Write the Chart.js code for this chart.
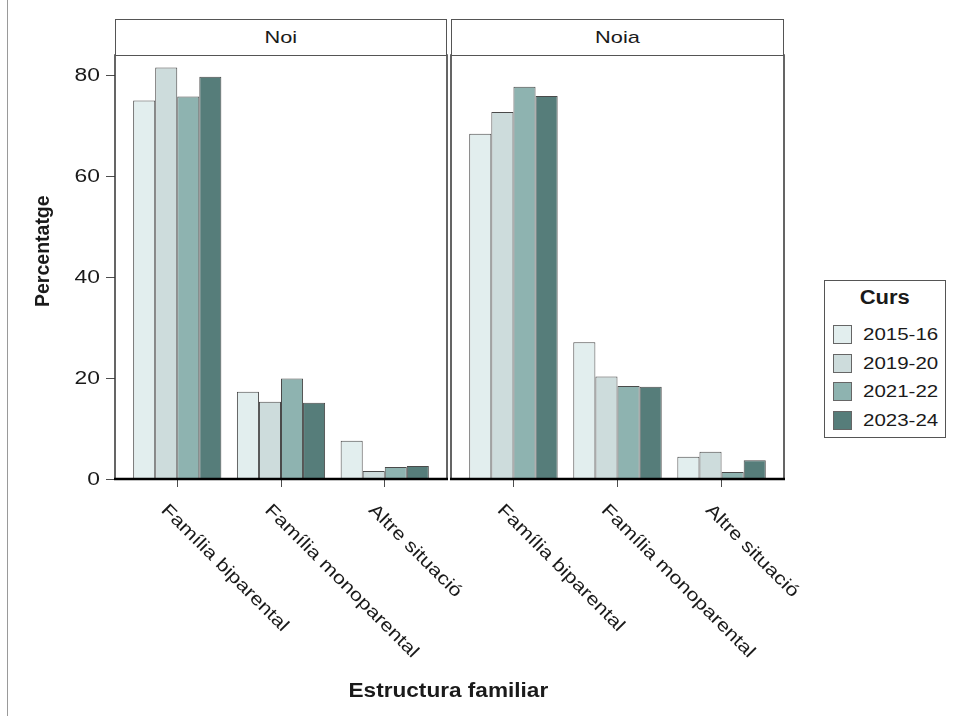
<!DOCTYPE html>
<html>
<head>
<meta charset="utf-8">
<script src="https://cdn.jsdelivr.net/npm/chart.js@4.4.1/dist/chart.umd.min.js"></script>
<style>
  body { margin: 0; background: #fff; }
  #page { position: relative; width: 954px; height: 718px; overflow: hidden;
          font-family: "Liberation Sans", Arial, sans-serif; color: #1a1a1a; }
  .abs { position: absolute; }
  .strip { box-sizing: border-box; border: 1px solid #555; background: #fff;
           display: flex; align-items: center; justify-content: center; font-size: 17px; }
  .strip span, .wide { display: inline-block; transform: scaleX(1.28); white-space: nowrap; }
  .legend-row { position: absolute; left: 8px; width: 110px; height: 19px; font-size: 16px; white-space: nowrap; }
  .legend-row i { position: absolute; left: 0; top: 0; width: 17px; height: 17px; border: 1px solid #666; }
  .legend-row span { position: absolute; left: 30px; top: 0; line-height: 19px; transform-origin: left center; }
</style>
</head>
<body>
<div id="page">
  <div class="abs" style="left:7px;top:0;width:1px;height:716px;background:#9a9a9a"></div>

  <div class="abs" style="left:0;top:43px;width:480px;height:660px"><canvas id="noi"></canvas></div>
  <div class="abs" style="left:449px;top:43px;width:505px;height:660px"><canvas id="noia"></canvas></div>

  <div class="abs strip" style="left:115px;top:19px;width:332px;height:37px"><span>Noi</span></div>
  <div class="abs strip" style="left:451px;top:19px;width:333px;height:37px"><span>Noia</span></div>

  <div class="abs" style="left:-8px;top:246px;width:100px;height:22px;text-align:center;font-weight:bold;font-size:19.5px;line-height:22px;transform:rotate(-90deg)">Percentatge</div>
  <div class="abs" style="left:298px;top:678px;width:300px;text-align:center;font-weight:bold;font-size:20px;line-height:24px"><span style="display:inline-block;transform:scaleX(1.13)">Estructura familiar</span></div>

  <div class="abs" id="legend" style="left:824px;top:280px;width:122px;height:158px;box-sizing:border-box;border:1px solid #555;background:#fff">
    <div style="position:absolute;left:0;top:4px;width:120px;text-align:center;font-weight:bold;font-size:20px;line-height:24px"><span style="display:inline-block;transform:scaleX(1.1)">Curs</span></div>
  </div>
</div>

<script>
const categories = ['Família biparental', 'Família monoparental', 'Altre situació'];
const cursos = ['2015-16', '2019-20', '2021-22', '2023-24'];
const colors = ['#e2eeee', '#cddcdc', '#8eb3b0', '#567d7a'];
const yTicks = [0, 20, 40, 60, 80];

// percentatges per curs, ordre de categories
const noi_2015_16 = [75.0, 17.3, 7.6];
const noi_2019_20 = [81.5, 15.3, 1.6];
const noi_2021_22 = [75.8, 19.9, 2.4];
const noi_2023_24 = [79.7, 15.1, 2.6];

const noia_2015_16 = [68.4, 27.1, 4.4];
const noia_2019_20 = [72.7, 20.3, 5.4];
const noia_2021_22 = [77.7, 18.4, 1.4];
const noia_2023_24 = [75.9, 18.3, 3.7];

const noiSeries = [noi_2015_16, noi_2019_20, noi_2021_22, noi_2023_24];
const noiaSeries = [noia_2015_16, noia_2019_20, noia_2021_22, noia_2023_24];

const FONT = '"Liberation Sans", Arial, sans-serif';

// legend
const legend = document.getElementById('legend');
cursos.forEach((c, i) => {
  const row = document.createElement('div');
  row.className = 'legend-row';
  row.style.top = (44 + i * 28.5) + 'px';
  row.innerHTML = `<i style="background:${colors[i]}"></i><span class="wide">${c}</span>`;
  legend.appendChild(row);
});

const panelBox = {
  id: 'panelBox',
  afterDatasetsDraw(chart) {
    const { ctx, chartArea: a } = chart;
    ctx.save();
    ctx.strokeStyle = '#333';
    ctx.lineWidth = 1.5;
    ctx.strokeRect(a.left, a.top, a.right - a.left, a.bottom - a.top);
    ctx.strokeStyle = '#000';
    ctx.lineWidth = 2.5;
    ctx.beginPath();
    ctx.moveTo(a.left - 1, a.bottom);
    ctx.lineTo(a.right + 1, a.bottom);
    ctx.stroke();
    ctx.restore();
  }
};

const axisText = {
  id: 'axisText',
  afterDraw(chart, args, opts) {
    const { ctx } = chart;
    const xs = chart.scales.x;
    ctx.save();
    ctx.fillStyle = '#1a1a1a';
    ctx.font = '18px ' + FONT;
    // x labels, rotated clockwise and starting at the tick
    categories.forEach((c, i) => {
      const x = xs.getPixelForValue(i);
      ctx.save();
      ctx.translate(x - 7, xs.top + 22);
      ctx.rotate(Math.PI / 4);
      ctx.scale(1.2, 1);
      ctx.textAlign = 'left';
      ctx.textBaseline = 'top';
      ctx.fillText(c, 0, 0);
      ctx.restore();
    });
    if (opts.yLabels) {
      const ys = chart.scales.y;
      ys.ticks.forEach(t => {
        const y = ys.getPixelForValue(t.value);
        ctx.save();
        ctx.translate(100, y + 1);
        ctx.scale(1.27, 1);
        ctx.textAlign = 'right';
        ctx.textBaseline = 'middle';
        ctx.fillText(String(t.value), 0, 0);
        ctx.restore();
      });
    }
    ctx.restore();
  }
};

function makePanel(id, series, withY, padRight) {
  return new Chart(document.getElementById(id), {
    type: 'bar',
    data: {
      datasets: series.map((vals, k) => ({
        label: cursos[k],
        data: vals.map((v, i) => ({ x: i, y: v })),
        backgroundColor: colors[k],
        borderColor: '#4a4a4a',
        borderWidth: 1,
        categoryPercentage: 0.85,
        barPercentage: 1.0
      }))
    },
    options: {
      responsive: true,
      maintainAspectRatio: false,
      animation: false,
      layout: { padding: { top: 12, bottom: 0, left: withY ? 0 : 2, right: padRight } },
      plugins: { legend: { display: false }, tooltip: { enabled: false }, axisText: { yLabels: withY } },
      scales: {
        x: {
          type: 'linear',
          min: -0.6,
          max: 2.6,
          offset: false,
          afterBuildTicks: s => { s.ticks = categories.map((c, i) => ({ value: i })); },
          afterFit: s => { s.height = 224; },
          ticks: { display: false },
          grid: { offset: false, drawOnChartArea: false, drawTicks: true, tickLength: 8, color: '#4d4d4d' },
          border: { display: false }
        },
        y: {
          display: withY,
          min: 0,
          max: 84,
          afterBuildTicks: s => { s.ticks = yTicks.map(v => ({ value: v })); },
          afterFit: s => { s.width = withY ? 115 : 0; },
          ticks: { display: false },
          grid: { drawOnChartArea: false, drawTicks: true, tickLength: 9, color: '#4d4d4d' },
          border: { display: false }
        }
      }
    },
    plugins: [panelBox, axisText]
  });
}

makePanel('noi', noiSeries, true, 33);
makePanel('noia', noiaSeries, false, 170);
</script>
</body>
</html>
